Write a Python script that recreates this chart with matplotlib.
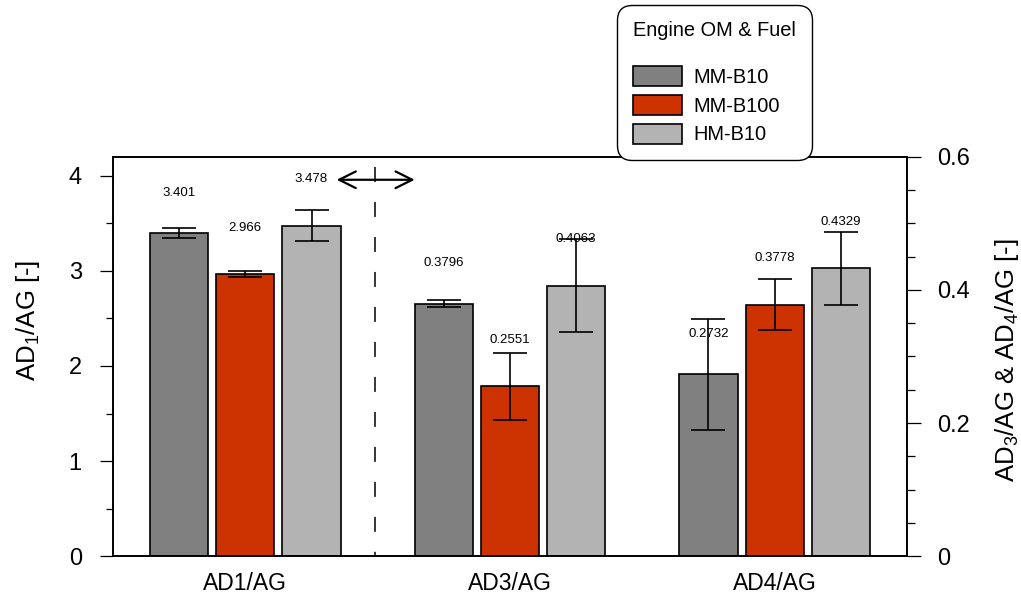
import matplotlib
matplotlib.use('Agg')
import matplotlib.pyplot as plt
from matplotlib.ticker import MultipleLocator, FuncFormatter
import numpy as np

plt.rcParams['font.family'] = ['Liberation Sans', 'DejaVu Sans']
plt.rcParams['mathtext.fontset'] = 'custom'
plt.rcParams['mathtext.rm'] = 'Liberation Sans'
plt.rcParams['mathtext.default'] = 'regular'

groups = ['AD1/AG', 'AD3/AG', 'AD4/AG']
fuels = ['MM-B10', 'MM-B100', 'HM-B10']
colors = ['#808080', '#CC3300', '#B3B3B3']

# AD1/AG ratios (left axis), one value per engine/fuel
ad1_vals = [3.401, 2.966, 3.478]
ad1_err = [0.056, 0.033, 0.163]

# AD3/AG and AD4/AG ratios (right axis)
ad3_vals = [0.3796, 0.2551, 0.4063]
ad3_err = [0.005, 0.050, 0.070]
ad4_vals = [0.2732, 0.3778, 0.4329]
ad4_err = [0.083, 0.038, 0.055]

fig = plt.figure(figsize=(10.21, 5.98), dpi=100)
ax = fig.add_axes([0.1107, 0.0702, 0.7776, 0.6673])
ax2 = ax.twinx()

x = np.arange(len(groups))
width = 0.22
step = 0.25
label_off = [29, 33.5, 33.5]  # points above the bar top
err_kw = dict(elinewidth=1.2, capthick=1.2, ecolor='black')

handles = []
for i, fuel in enumerate(fuels):
    pos = x[0] + (i - 1) * step
    b = ax.bar(pos, ad1_vals[i], width, yerr=ad1_err[i], color=colors[i],
               edgecolor='black', linewidth=1.2, capsize=12, error_kw=err_kw,
               label=fuel)
    handles.append(b)
    ax.annotate(f'{ad1_vals[i]:.3f}', (pos, ad1_vals[i]),
                xytext=(0, label_off[i]), textcoords='offset points',
                ha='center', va='center', fontsize=9.5, zorder=1.5)

    pos2 = x[1:] + (i - 1) * step
    right = [ad3_vals[i], ad4_vals[i]]
    right_err = [ad3_err[i], ad4_err[i]]
    ax2.bar(pos2, right, width, yerr=right_err, color=colors[i],
            edgecolor='black', linewidth=1.2, capsize=12, error_kw=err_kw)
    for p, v in zip(pos2, right):
        ax2.annotate(f'{v:.4f}', (p, v), xytext=(0, label_off[i]),
                     textcoords='offset points', ha='center', va='center',
                     fontsize=9.5, zorder=1.5)

# separator between the two scales
ax.plot([0.49, 0.49], [4.095, 0], color='black', lw=1.1, dashes=(9.8, 13.1))
ax.annotate('', xy=(0.64, 3.96), xytext=(0.345, 3.96),
            arrowprops=dict(arrowstyle='<->,head_length=0.8,head_width=0.4',
                            lw=1.6, color='black', shrinkA=0, shrinkB=0,
                            mutation_scale=15))

ax.set_xlim(-0.5, 2.5)
ax.set_ylim(0, 4.2)
ax2.set_ylim(0, 0.6)

ax.set_xticks(x, groups)
ax.tick_params(axis='x', length=0, labelsize=16.5, pad=11.5)
ax.yaxis.set_major_locator(MultipleLocator(1))
ax.yaxis.set_minor_locator(MultipleLocator(0.5))
ax.tick_params(axis='y', which='major', direction='out', length=9.5,
               width=0.9, labelsize=17, pad=13)
ax.tick_params(axis='y', which='minor', direction='out', length=5, width=0.9)

ax2.yaxis.set_major_locator(MultipleLocator(0.2))
ax2.yaxis.set_minor_locator(MultipleLocator(0.05))
ax2.yaxis.set_major_formatter(FuncFormatter(lambda v, _: f'{v:g}'))
ax2.tick_params(axis='y', which='major', direction='out', length=10,
                width=0.9, labelsize=17, pad=11.5)
ax2.tick_params(axis='y', which='minor', direction='out', length=6, width=0.9)

for a in (ax, ax2):
    for s in a.spines.values():
        s.set_linewidth(1.2)

ax.set_ylabel(r'AD$_1$/AG [-]', fontsize=18.5)
ax.yaxis.set_label_coords(-0.09, 0.59)
ax2.set_ylabel(r'AD$_3$/AG & AD$_4$/AG [-]', fontsize=18.5)
ax2.yaxis.set_label_coords(1.108, 0.49)

leg = ax2.legend(handles=handles, title='Engine OM & Fuel\n', loc='upper left',
                 bbox_to_anchor=(617 / 1021, 1 - 5 / 598),
                 bbox_transform=fig.transFigure, borderaxespad=0,
                 fontsize=14.4, title_fontsize=14.4, fancybox=True,
                 framealpha=1, edgecolor='black', handlelength=2.45,
                 handleheight=1.15, labelspacing=0.4, handletextpad=0.55,
                 borderpad=0.8, alignment='left')
leg.get_title().set_linespacing(0.95)
leg.get_frame().set_boxstyle('round', pad=0, rounding_size=0.75)
leg.get_frame().set_linewidth(1.0)
for p in leg.get_patches():
    p.set_edgecolor('black')
    p.set_linewidth(1.2)

fig.savefig('out.png', dpi=100)
